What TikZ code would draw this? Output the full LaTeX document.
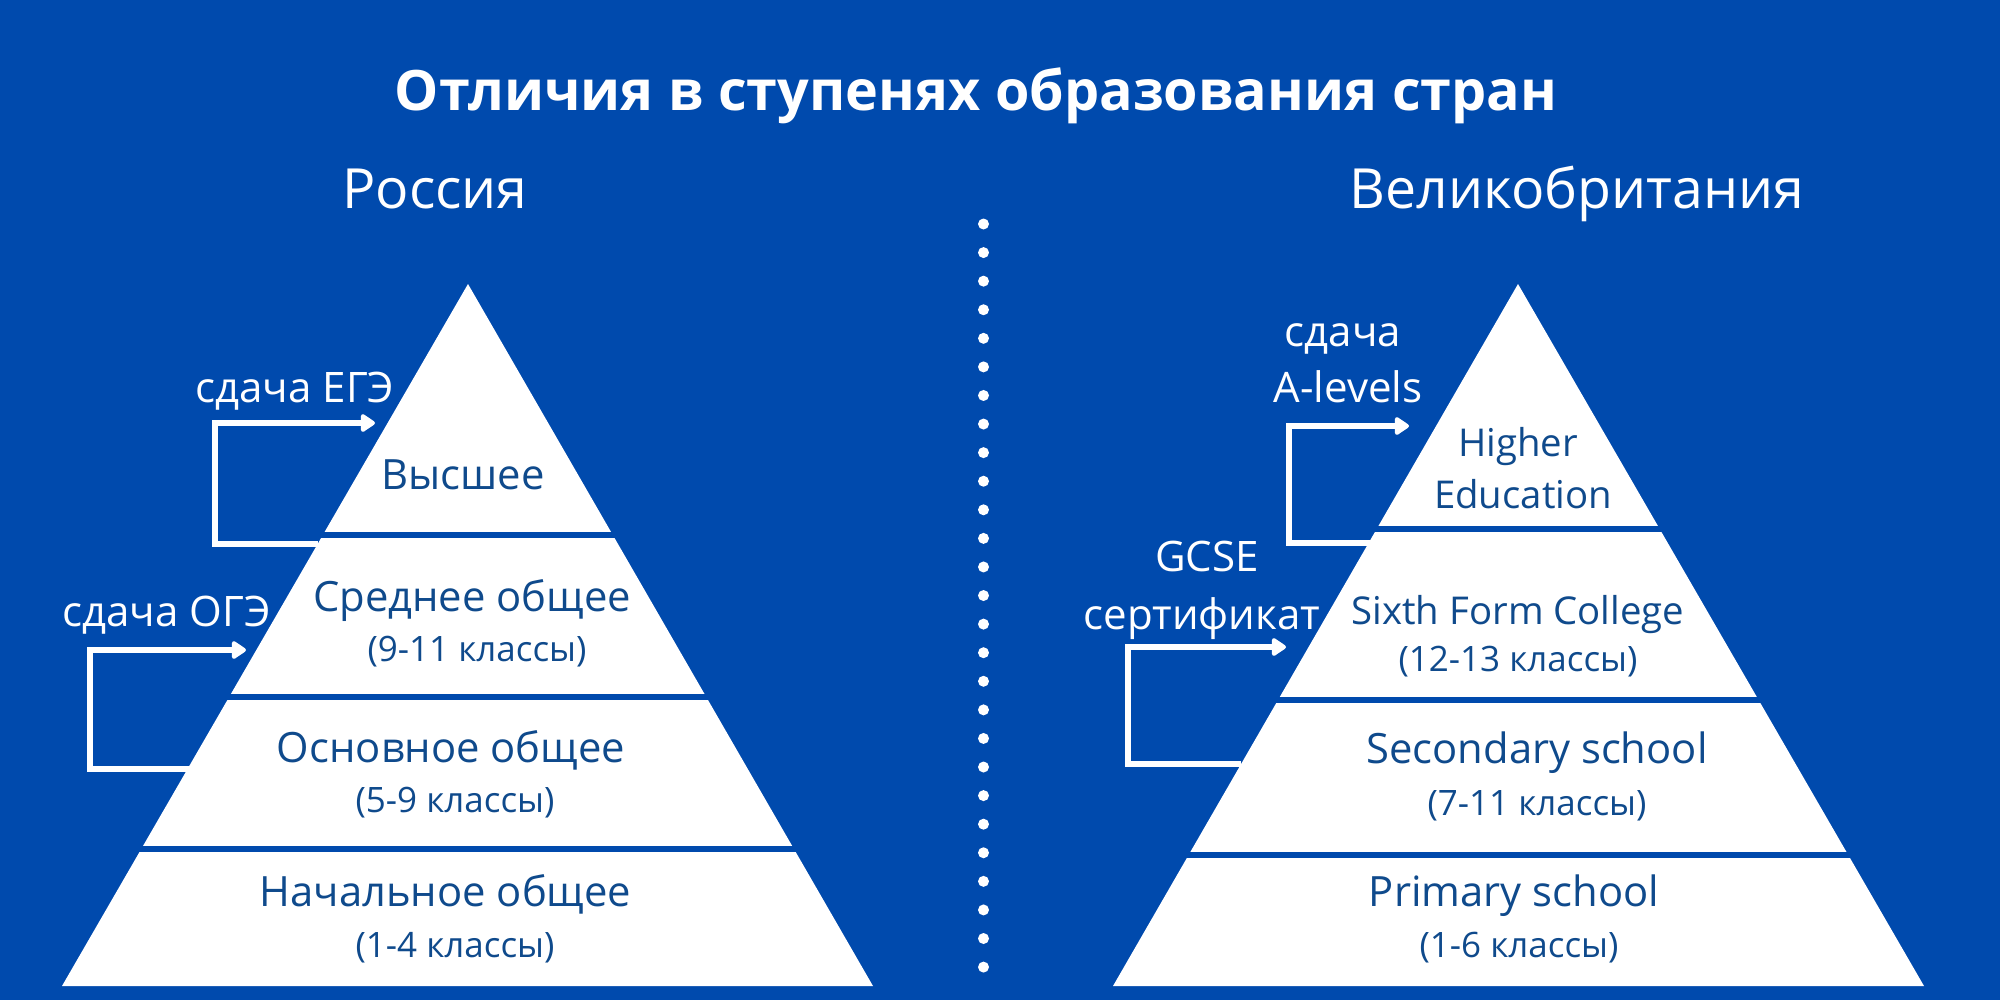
\documentclass[tikz,border=0pt]{standalone}
\usepackage{fontspec}
\setmainfont{Open Sans}
\usetikzlibrary{arrows.meta}
\definecolor{cobalt}{HTML}{004AAD}
\definecolor{tierink}{HTML}{0F4A8C}
\tikzset{
  headline/.style={anchor=base,text=white,font=\fontsize{15.83}{18}\selectfont\bfseries},
  country/.style={anchor=base,text=white,font=\fontsize{15.75}{18}\selectfont},
  examlabel/.style={anchor=base,text=white,font=\fontsize{11.95}{14}\selectfont},
  tierlabel/.style={anchor=base,text=tierink,font=\fontsize{11.87}{14}\selectfont},
  tiersmall/.style={anchor=base,text=tierink,font=\fontsize{10.9}{14}\selectfont},
  tiernote/.style={anchor=base,text=tierink,font=\fontsize{9.95}{12}\selectfont},
  tierline/.style={cobalt,line width=1.5pt},
  examarrow/.style={white,line width=1.5pt,-{Triangle[length=4.5pt,width=5.7pt,round]}}
}
\begin{document}
\begin{tikzpicture}[x=0.01cm,y=-0.01cm]
  % background
  \fill[cobalt] (0,0) rectangle (2000,1000);
  \useasboundingbox (0,0) rectangle (2000,1000);
  % titles
  \node[headline] (title) at (976,110) {Отличия в ступенях образования стран};
  \node[country] (russia) at (435,208) {Россия};
  \node[country] (britain) at (1577,208) {Великобритания};
  % separator
  \foreach \n in {0,...,26}
    \fill[white] (983.5,224+\n*28.58) circle [radius=5.5];
  % pyramid 1
  \fill[white] (468,284) -- (873,986) -- (62,986) -- cycle;
  \draw[tierline] (50,535) -- (890,535);
  \draw[tierline] (50,697) -- (890,697);
  \draw[tierline] (50,849) -- (890,849);
  \node[tierlabel] (higherRu) at (463,489) {Высшее};
  \node[tierlabel] (middleRu) at (472,611) {Среднее общее};
  \node[tiernote] (middleRuNote) at (477,661) {(9-11 классы)};
  \node[tierlabel] (basicRu) at (451,762) {Основное общее};
  \node[tiernote] (basicRuNote) at (455,812) {(5-9 классы)};
  \node[tierlabel] (primaryRu) at (445.5,906.5) {Начальное общее};
  \node[tiernote] (primaryRuNote) at (455,957) {(1-4 классы)};
  % pyramid 2
  \fill[white] (1518,284) -- (1924,986) -- (1113,986) -- cycle;
  \draw[tierline] (1100,529) -- (1940,529);
  \draw[tierline] (1100,700) -- (1940,700);
  \draw[tierline] (1100,855) -- (1940,855);
  \node[tiersmall] (higherUk) at (1518,456) {Higher};
  \node[tiersmall] (higherUkNext) at (1523,508) {Education};
  \node[tiersmall] (sixthUk) at (1518,624) {Sixth Form College};
  \node[tiernote] (sixthUkNote) at (1518,671) {(12-13 классы)};
  \node[tierlabel] (secondaryUk) at (1537,763) {Secondary school};
  \node[tiernote] (secondaryUkNote) at (1537,815) {(7-11 классы)};
  \node[tierlabel] (primaryUk) at (1514,906.5) {Primary school};
  \node[tiernote] (primaryUkNote) at (1519,957) {(1-6 классы)};
  % exams
  \node[examlabel] (ege) at (295,402) {сдача ЕГЭ};
  \node[examlabel] (oge) at (166.5,626.5) {сдача ОГЭ};
  \node[examlabel] (alevelsTop) at (1343,346) {сдача};
  \node[examlabel] (alevels) at (1348,402) {A-levels};
  \node[examlabel] (gcseTop) at (1207,571.5) {GCSE};
  \node[examlabel] (gcse) at (1202,629) {сертификат};
  \coordinate (egeFrom) at (318,544);
  \coordinate (egeCorner) at (215,423);
  \coordinate (egeTo) at (375,423);
  \coordinate (ogeFrom) at (190,769);
  \coordinate (ogeCorner) at (90,650);
  \coordinate (ogeTo) at (246,650);
  \coordinate (alevelsFrom) at (1371,543);
  \coordinate (alevelsCorner) at (1289,426);
  \coordinate (alevelsTo) at (1409,426);
  \coordinate (gcseFrom) at (1241,764);
  \coordinate (gcseCorner) at (1128,647);
  \coordinate (gcseTo) at (1286,647);
  \draw[examarrow] (egeFrom) -| (egeCorner) -- (egeTo);
  \draw[examarrow] (ogeFrom) -| (ogeCorner) -- (ogeTo);
  \draw[examarrow] (alevelsFrom) -| (alevelsCorner) -- (alevelsTo);
  \draw[examarrow] (gcseFrom) -| (gcseCorner) -- (gcseTo);
\end{tikzpicture}
\end{document}
